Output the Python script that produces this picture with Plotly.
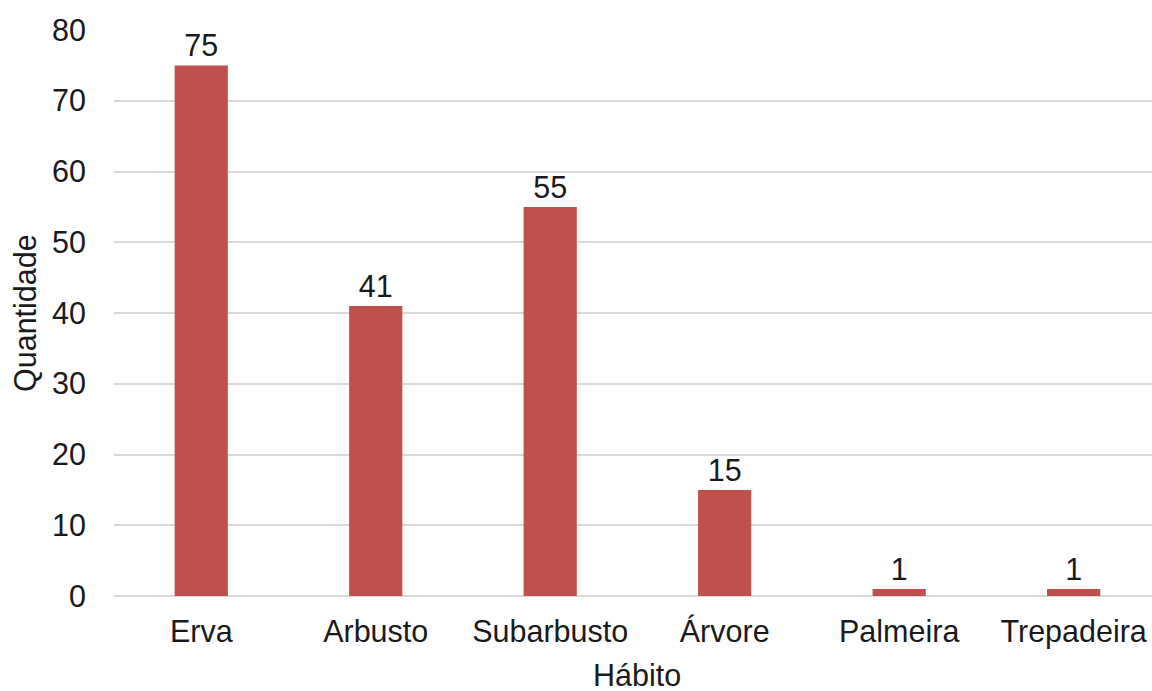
import plotly.graph_objects as go

# Growth habit counts
habitos = ["Erva", "Arbusto", "Subarbusto", "Árvore", "Palmeira", "Trepadeira"]
quantidades = [75, 41, 55, 15, 1, 1]
y_ticks = [0, 10, 20, 30, 40, 50, 60, 70, 80]

FONT = "Liberation Sans, Arial, sans-serif"
FS = 30.5
TXT = "#1a1a1a"
GRID = "#d9d9d9"

fig = go.Figure(
    go.Bar(
        x=habitos,
        y=quantidades,
        width=0.305,
        marker=dict(color="#C0504D", line=dict(width=0)),
        text=[str(v) for v in quantidades],
        textposition="outside",
        textfont=dict(family=FONT, size=FS, color=TXT),
        cliponaxis=False,
    )
)

fig.update_layout(
    width=1152,
    height=691,
    margin=dict(l=114, r=0, t=30, b=95),
    paper_bgcolor="white",
    plot_bgcolor="white",
    showlegend=False,
    font=dict(family=FONT, size=FS, color=TXT),
    xaxis=dict(
        range=[-0.5, 5.449],
        showgrid=False,
        showline=False,
        zeroline=False,
        ticks="",
        ticklabelstandoff=14,
        tickfont=dict(family=FONT, size=FS, color=TXT),
    ),
    yaxis=dict(
        range=[0, 80],
        tickvals=y_ticks,
        showgrid=True,
        gridcolor=GRID,
        gridwidth=2,
        zeroline=True,
        zerolinecolor=GRID,
        zerolinewidth=2,
        showline=False,
        ticks="",
        ticklabelstandoff=27,
        tickfont=dict(family=FONT, size=FS, color=TXT),
    ),
    annotations=[
        dict(
            text="Hábito",
            xref="paper", yref="paper",
            x=0.504, y=0,
            xanchor="center", yanchor="middle",
            yshift=-79,
            showarrow=False,
            font=dict(family=FONT, size=FS, color=TXT),
        ),
        dict(
            text="Quantidade",
            xref="paper", yref="paper",
            x=0, y=0.5,
            xanchor="center", yanchor="middle",
            xshift=-89,
            textangle=-90,
            showarrow=False,
            font=dict(family=FONT, size=FS, color=TXT),
        ),
    ],
)

fig.write_html("out.html")
